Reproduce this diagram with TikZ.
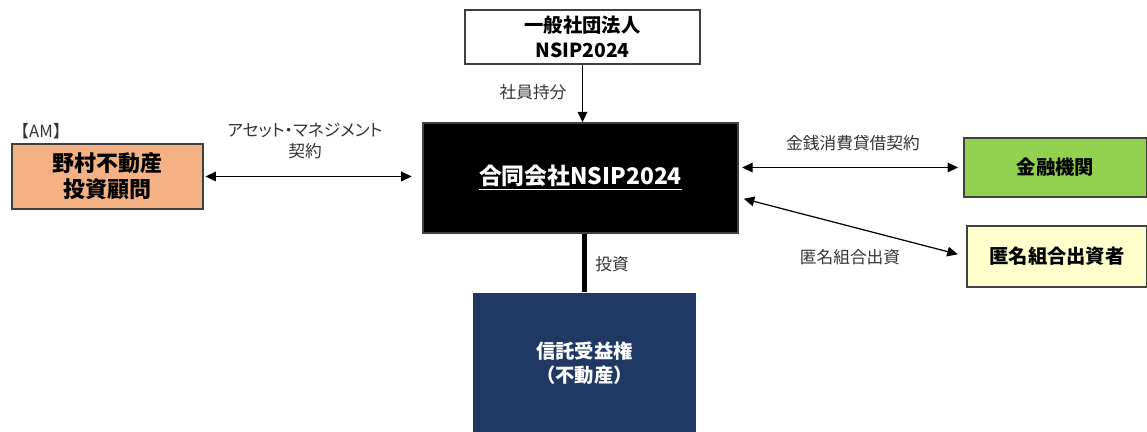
\documentclass[tikz,border=0pt]{standalone}
\usepackage{fontspec}
\setmainfont{Noto Sans CJK JP}
\usetikzlibrary{arrows.meta}

\definecolor{amorange}{HTML}{F4B183}
\definecolor{bankgreen}{HTML}{92D050}
\definecolor{tkyellow}{HTML}{FFFFCC}
\definecolor{trustblue}{HTML}{1F3864}

\tikzset{
    box/.style={draw=black!75, line width=0.8pt, inner sep=0pt, align=center,
        font=\bfseries\fontsize{11}{14}\selectfont},
    lbl/.style={align=center, text=black!80, font=\fontsize{9.5}{11.5}\selectfont}
}

\begin{document}
\begin{tikzpicture}[x=0.02cm, y=-0.02cm, >={Triangle[length=6pt, width=5.5pt]}, line width=0.7pt]
                \useasboundingbox (0,0) rectangle (1147,432);

                \node[box, fill=white, minimum width=4.7cm, minimum height=1.08cm] (HQ) at (582.5,37) {一般社団法人\\NSIP2024};
                \node[box, fill=black, text=white, minimum width=6.3cm, minimum height=2.2cm,
                    font=\bfseries\fontsize{13}{15}\selectfont] (GK) at (580.5,178) {\underline{合同会社NSIP2024}};
                \node[box, fill=amorange, minimum width=3.82cm, minimum height=1.3cm,
                    font=\bfseries\fontsize{12.5}{15}\selectfont] (AM) at (107.5,176.5) {野村不動産\\投資顧問};
                \node[box, fill=bankgreen, minimum width=3.66cm, minimum height=1.18cm] (Bank) at (1055.5,167.5) {金融機関};
                \node[box, fill=tkyellow, minimum width=3.6cm, minimum height=1.22cm] (TK) at (1057,256.5) {匿名組合出資者};
                \node[box, draw=none, fill=trustblue, text=white, minimum width=4.46cm, minimum height=2.8cm] (Trust) at (584.5,363) {信託受益権\\（不動産）};

                \node[lbl] (AMtag) at (41,131) {【AM】};
                \node[lbl] (AMlbl) at (305,141) {\addfontfeatures{CharacterWidth=AlternateProportional}アセット・マネジメント\\契約};
                \node[lbl] (HQlbl) at (533,92) {社員持分};
                \node[lbl] (Banklbl) at (853,143) {金銭消費貸借契約};
                \node[lbl] (TKlbl) at (850,257) {匿名組合出資};
                \node[lbl] (Trustlbl) at (612,264) {投資};

                \draw[->] (HQ.south) -- (HQ.south |- GK.north);
                \draw[<->, shorten >=6pt, shorten <=1pt] (AM.east) -- (AM.east -| GK.west);
                \draw[<->, shorten >=3pt, shorten <=2pt] (GK.east |- Bank) -- (Bank.west);
                \draw[<->, shorten >=5pt, shorten <=3pt] (GK.-7) -- (TK.west);
                \draw[line width=2.8pt] (Trust.north) -- (Trust.north |- GK.south);
            \end{tikzpicture}
\end{document}
